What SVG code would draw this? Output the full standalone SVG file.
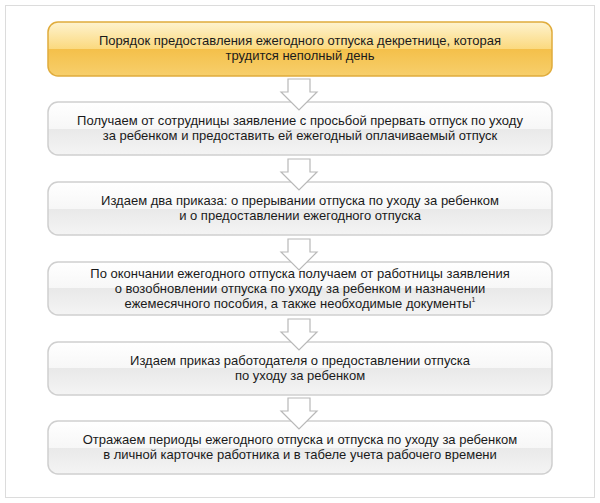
<svg xmlns="http://www.w3.org/2000/svg" width="600" height="503" viewBox="0 0 600 503">
<style>
text{font-family:"Liberation Sans","Noto Sans",sans-serif;font-size:13px;fill:#1a1a1a;text-anchor:middle}
.g{fill:url(#grey);stroke:#cfcfcf;stroke-width:1.5}
.y{fill:url(#yel);stroke:#e0ac3c;stroke-width:1.5}
.ar{fill:#fff;stroke:#b8b8b8;stroke-width:1.2}
</style>
<defs>
<linearGradient id="grey" x1="0" y1="0" x2="0" y2="1">
<stop offset="0" stop-color="#ffffff"/><stop offset="0.5" stop-color="#f7f7f7"/><stop offset="0.5" stop-color="#e9e9e9"/><stop offset="1" stop-color="#f4f4f4"/>
</linearGradient>
<linearGradient id="yel" x1="0" y1="0" x2="0" y2="1">
<stop offset="0" stop-color="#fef3cf"/><stop offset="0.5" stop-color="#fbd97e"/><stop offset="0.5" stop-color="#f4c04a"/><stop offset="1" stop-color="#f7cf6c"/>
</linearGradient>
</defs>
<rect x="5.5" y="5.5" width="589" height="492" fill="#fff" stroke="#dcdcdc"/>
<g id="n1"><rect class="y" x="48" y="22" width="504" height="54" rx="10"/>
<text x="300" y="45">Порядок предоставления ежегодного отпуска декретнице, которая</text><text x="300" y="60">трудится неполный день</text></g>
<g id="n2"><rect class="g" x="48" y="102" width="504" height="53" rx="10"/>
<text x="300" y="125">Получаем от сотрудницы заявление с просьбой прервать отпуск по уходу</text><text x="300" y="140">за ребенком и предоставить ей ежегодный оплачиваемый отпуск</text></g>
<g id="n3"><rect class="g" x="48" y="182" width="504" height="53" rx="10"/>
<text x="300" y="205">Издаем два приказа: о прерывании отпуска по уходу за ребенком</text><text x="300" y="220">и о предоставлении ежегодного отпуска</text></g>
<g id="n4"><rect class="g" x="48" y="262" width="504" height="53" rx="10"/>
<text x="300" y="278">По окончании ежегодного отпуска получаем от работницы заявления</text><text x="300" y="293">о возобновлении отпуска по уходу за ребенком и назначении</text><text x="300" y="308">ежемесячного пособия, а также необходимые документы<tspan font-size="7" dy="-6">1</tspan></text></g>
<g id="n5"><rect class="g" x="48" y="342" width="504" height="53" rx="10"/>
<text x="300" y="365">Издаем приказ работодателя о предоставлении отпуска</text><text x="300" y="380">по уходу за ребенком</text></g>
<g id="n6"><rect class="g" x="48" y="421" width="504" height="53" rx="10"/>
<text x="300" y="444">Отражаем периоды ежегодного отпуска и отпуска по уходу за ребенком</text><text x="300" y="459">в личной карточке работника и в табеле учета рабочего времени</text></g>
<g id="connectors">
<path class="ar" d="M288 79h22v13h7l-18 18l-18-18h7z"/>
<path class="ar" d="M288 159h22v13h7l-18 18l-18-18h7z"/>
<path class="ar" d="M288 239h22v13h7l-18 18l-18-18h7z"/>
<path class="ar" d="M288 319h22v13h7l-18 18l-18-18h7z"/>
<path class="ar" d="M288 398h22v13h7l-18 18l-18-18h7z"/>
</g>
</svg>
